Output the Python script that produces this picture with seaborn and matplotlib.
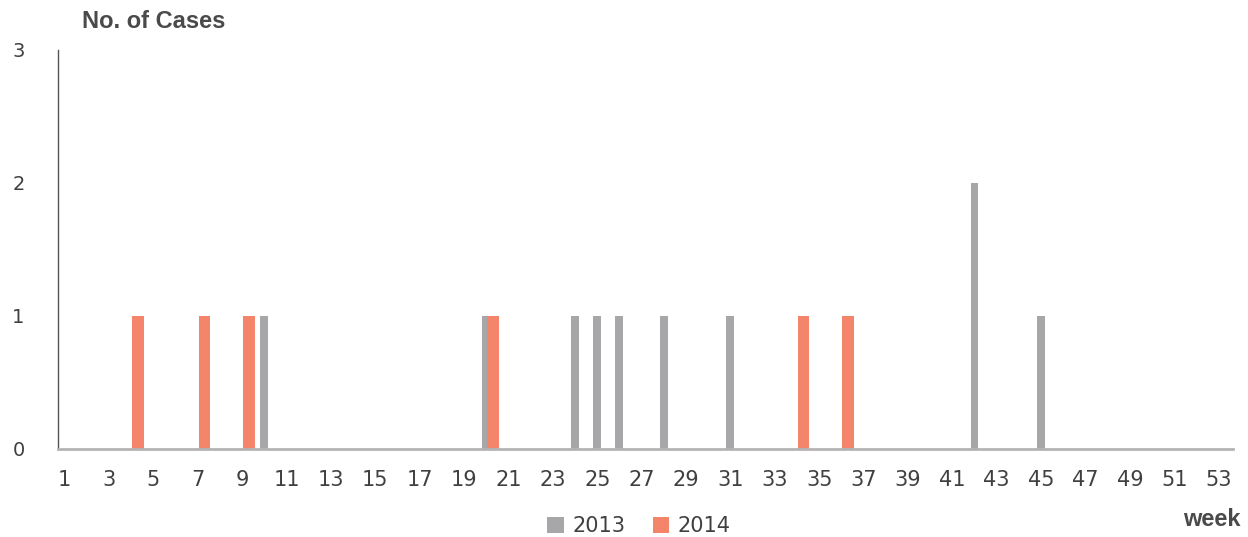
import numpy as np
import pandas as pd
import matplotlib
matplotlib.use("Agg")
import matplotlib.pyplot as plt
from matplotlib.patches import Patch
import seaborn as sns

# Weekly case counts by year
weeks = list(range(1, 54))
weeks_2013 = [10, 20, 24, 25, 26, 28, 31, 42, 45]
cases_2013 = [1, 1, 1, 1, 1, 1, 1, 2, 1]
weeks_2014 = [4, 7, 9, 20, 34, 36]
cases_2014 = [1, 1, 1, 1, 1, 1]
years = ["2013", "2014"]
y_ticks = [0, 1, 2, 3]
x_tick_labels = [str(w) for w in weeks if w % 2 == 1]

c2013 = "#a7a7aa"
c2014 = "#f4846a"
text_c = "#404040"

s2013 = pd.Series(0, index=weeks, dtype=float)
s2013.loc[weeks_2013] = cases_2013
s2014 = pd.Series(0, index=weeks, dtype=float)
s2014.loc[weeks_2014] = cases_2014

df13 = pd.DataFrame({"week": np.array(weeks, dtype=float), "cases": s2013.values})
df14 = pd.DataFrame({"week": np.array(weeks, dtype=float) + 0.3, "cases": s2014.values})

sns.set_style("white")
plt.rcParams["font.family"] = ["DejaVu Sans"]

fig = plt.figure(figsize=(12.48, 5.37), dpi=100)
ax = fig.add_axes([0.0465, 0.164, 0.9415, 0.743])

sns.barplot(data=df13, x="week", y="cases", native_scale=True, width=0.36,
            color=c2013, saturation=1, linewidth=0, ax=ax, errorbar=None)
sns.barplot(data=df14, x="week", y="cases", native_scale=True, width=0.52,
            color=c2014, saturation=1, linewidth=0, ax=ax, errorbar=None)

ax.set_xlim(0.7, 53.65)
ax.set_ylim(0, 3)
ax.set_xticks([w for w in weeks if w % 2 == 1])
ax.set_xticklabels(x_tick_labels, fontsize=15, color=text_c)
ax.set_yticks(y_ticks)
ax.set_yticklabels([str(v) for v in y_ticks], fontsize=14, color=text_c)
ax.tick_params(axis="x", length=0, pad=15)
ax.tick_params(axis="y", length=0, pad=24)
ax.set_xlabel("")
ax.set_ylabel("")

for side in ["top", "right"]:
    ax.spines[side].set_visible(False)
ax.spines["left"].set_color("#555555")
ax.spines["left"].set_linewidth(1.0)
ax.spines["bottom"].set_color("#b4b4b4")
ax.spines["bottom"].set_linewidth(2.0)

fig.text(82 / 1248, 1 - 22 / 537, "No. of Cases", fontsize=17, fontweight="bold",
         family="Liberation Sans", color="#4a4a4a", ha="left", va="center")
fig.text(1241 / 1248, 1 - 519 / 537, "week", fontsize=17, fontweight="bold",
         family="Liberation Sans", color="#4a4a4a", ha="right", va="center")

handles = [Patch(facecolor=c2013, edgecolor="none"),
           Patch(facecolor=c2014, edgecolor="none")]
leg = fig.legend(handles, years, loc="center", ncol=2,
                 bbox_to_anchor=(639 / 1248, 1 - 526 / 537), frameon=False,
                 fontsize=15, handlelength=0.8, handleheight=0.8,
                 handletextpad=0.4, columnspacing=1.3)
for t in leg.get_texts():
    t.set_color(text_c)

fig.savefig("out.png", dpi=100)
